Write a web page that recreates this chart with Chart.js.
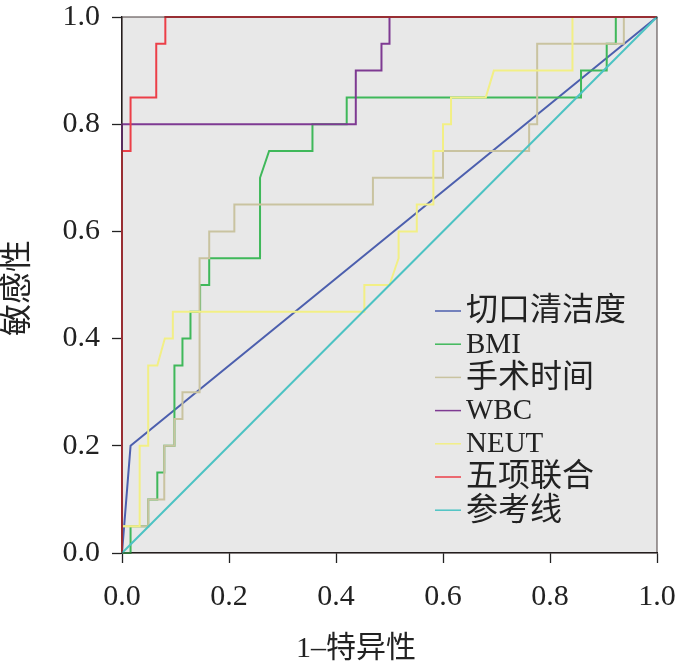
<!DOCTYPE html>
<html>
<head>
<meta charset="utf-8">
<script src="https://cdn.jsdelivr.net/npm/chart.js@4"></script>
<style>
  html, body { margin: 0; padding: 0; background: #fff; }
</style>
</head>
<body>
<canvas id="roc" width="679" height="667"></canvas>
<script>
// series names (legend order)
const seriesNames = ['切口清洁度', 'BMI', '手术时间', 'WBC', 'NEUT', '五项联合', '参考线'];
const seriesColors = ['#4c5fae', '#3fb85a', '#c9c3a0', '#7e3a92', '#f2ef85', '#ec3f48', '#4cc3c3'];

// 1-特异性 (x) / 敏感性 (y) for each curve
const cleanX = [0, 0.016, 1];
const cleanY = [0, 0.2, 1];

const bmiX = [0, 0.016, 0.016, 0.049, 0.049, 0.066, 0.066, 0.079, 0.079, 0.098, 0.098, 0.113, 0.113, 0.128, 0.128, 0.146, 0.146, 0.163, 0.163, 0.258, 0.258, 0.275, 0.356, 0.356, 0.42, 0.42, 0.858, 0.858, 0.906, 0.906, 0.923, 0.923, 1];
const bmiY = [0, 0, 0.05, 0.05, 0.1, 0.1, 0.15, 0.15, 0.2, 0.2, 0.35, 0.35, 0.4, 0.4, 0.45, 0.45, 0.5, 0.5, 0.55, 0.55, 0.7, 0.75, 0.75, 0.8, 0.8, 0.85, 0.85, 0.9, 0.9, 0.95, 0.95, 1, 1];

const timeX = [0, 0, 0.049, 0.049, 0.079, 0.079, 0.098, 0.098, 0.113, 0.113, 0.145, 0.145, 0.163, 0.163, 0.21, 0.21, 0.469, 0.469, 0.6, 0.6, 0.761, 0.761, 0.776, 0.776, 0.938, 0.938, 1];
const timeY = [0, 0.05, 0.05, 0.1, 0.1, 0.2, 0.2, 0.25, 0.25, 0.3, 0.3, 0.55, 0.55, 0.6, 0.6, 0.65, 0.65, 0.7, 0.7, 0.75, 0.75, 0.8, 0.8, 0.95, 0.95, 1, 1];

const wbcX = [0, 0, 0.437, 0.437, 0.485, 0.485, 0.5, 0.5, 1];
const wbcY = [0, 0.8, 0.8, 0.9, 0.9, 0.95, 0.95, 1, 1];

const neutX = [0, 0, 0.033, 0.033, 0.049, 0.049, 0.066, 0.08, 0.095, 0.095, 0.453, 0.453, 0.5, 0.517, 0.517, 0.551, 0.551, 0.582, 0.582, 0.6, 0.6, 0.615, 0.615, 0.68, 0.695, 0.842, 0.842, 1];
const neutY = [0, 0.05, 0.05, 0.2, 0.2, 0.35, 0.35, 0.4, 0.4, 0.45, 0.45, 0.5, 0.5, 0.55, 0.6, 0.6, 0.65, 0.65, 0.75, 0.75, 0.8, 0.8, 0.85, 0.85, 0.9, 0.9, 1, 1];

const comboX = [0, 0, 0.016, 0.016, 0.064, 0.064, 0.081, 0.081, 1];
const comboY = [0, 0.75, 0.75, 0.85, 0.85, 0.95, 0.95, 1, 1];

const refX = [0, 1];
const refY = [0, 1];

const axisTicks = [0, 0.2, 0.4, 0.6, 0.8, 1.0];

const xs = [cleanX, bmiX, timeX, wbcX, neutX, comboX, refX];
const ys = [cleanY, bmiY, timeY, wbcY, neutY, comboY, refY];

const serif = "'Liberation Serif', 'Noto Sans CJK SC', serif";
const hasCJK = s => /[\u4e00-\u9fff]/.test(s);

// gray plot background + frame
const plotFrame = {
    id: 'plotFrame',
    beforeDraw(chart) {
        const { ctx, chartArea: a } = chart;
        ctx.save();
        ctx.fillStyle = '#e8e8e8';
        ctx.fillRect(a.left, a.top, a.right - a.left, a.bottom - a.top);
        ctx.restore();
    },
    afterDatasetsDraw(chart) {
        // frame drawn over the curves, like the dark edge in the original
        const { ctx, chartArea: a } = chart;
        ctx.save();
        ctx.strokeStyle = 'rgba(40, 25, 25, 0.7)';
        ctx.lineWidth = 1.2;
        ctx.strokeRect(a.left, a.top, a.right - a.left, a.bottom - a.top);
        ctx.restore();
    }
};

// axis titles and inner legend
const labels = {
    id: 'labels',
    afterDraw(chart) {
        const { ctx } = chart;
        ctx.save();
        ctx.fillStyle = '#222';
        ctx.font = '30px ' + serif;
        ctx.textAlign = 'center';
        ctx.textBaseline = 'middle';
        ctx.fillText('1–特异性', 356, 649);

        ctx.translate(19, 288);
        ctx.rotate(-Math.PI / 2);
        ctx.font = '32px ' + serif;
        ctx.fillText('敏感性', 0, 0);
        ctx.restore();

        ctx.save();
        ctx.textAlign = 'left';
        ctx.textBaseline = 'middle';
        seriesNames.forEach((name, i) => {
            const y = 311 + i * 33.2;
            ctx.strokeStyle = seriesColors[i];
            ctx.lineWidth = 1.5;
            ctx.beginPath();
            ctx.moveTo(435, y);
            ctx.lineTo(461, y);
            ctx.stroke();
            ctx.fillStyle = '#222';
            ctx.font = (hasCJK(name) ? '32px ' : '29px ') + serif;
            ctx.fillText(name, 466, y + 1);
        });
        ctx.restore();
    }
};

const axisCommon = {
    type: 'linear',
    min: 0,
    max: 1,
    afterBuildTicks: (scale) => { scale.ticks = axisTicks.map(v => ({ value: v })); },
    grid: { drawOnChartArea: false, drawTicks: true, tickLength: 10, tickColor: '#222', tickWidth: 1.3 },
    border: { display: true, color: '#222', width: 1.3 },
    title: { display: false }
};

new Chart(document.getElementById('roc').getContext('2d'), {
    type: 'scatter',
    data: {
        datasets: seriesNames.map((name, i) => ({
            label: name,
            data: xs[i].map((x, k) => ({ x: x, y: ys[i][k] })),
            showLine: true,
            borderColor: seriesColors[i],
            borderWidth: 2,
            pointRadius: 0,
            tension: 0,
            fill: false,
            clip: 2,
            order: seriesNames.length - i
        }))
    },
    options: {
        responsive: false,
        animation: false,
        devicePixelRatio: 1,
        layout: { padding: { top: 17, right: 22, left: 0, bottom: 0 } },
        scales: {
            x: {
                ...axisCommon,
                position: 'bottom',
                afterFit: (s) => { s.height = 114; s.paddingLeft = 0; s.paddingRight = 0; },
                ticks: { padding: 16, color: '#222', font: { family: serif, size: 30 }, maxRotation: 0, callback: v => v.toFixed(1) }
            },
            y: {
                ...axisCommon,
                position: 'left',
                afterFit: (s) => { s.width = 122; s.paddingTop = 0; s.paddingBottom = 0; },
                ticks: { padding: 12, color: '#222', font: { family: serif, size: 30 }, callback: v => v.toFixed(1) }
            }
        },
        plugins: {
            legend: { display: false },
            tooltip: { enabled: false }
        }
    },
    plugins: [plotFrame, labels]
});
</script>
</body>
</html>
